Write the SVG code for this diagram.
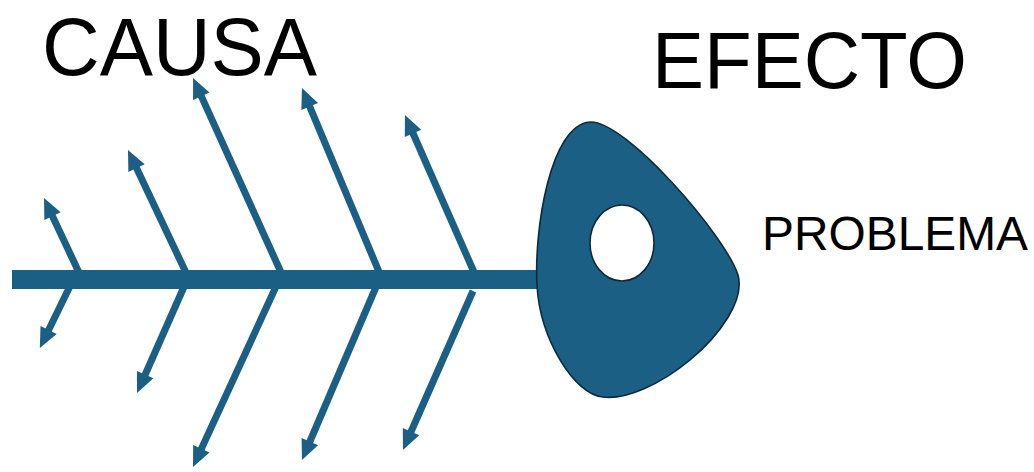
<svg xmlns="http://www.w3.org/2000/svg" width="1034" height="472" viewBox="0 0 1034 472">
<style>
.bone{stroke:#1b6084;stroke-width:7;fill:none;marker-end:url(#ah)}
.lbl{font-family:"Liberation Sans",Arial,sans-serif;fill:#000}
</style>
<defs>
<marker id="ah" markerUnits="userSpaceOnUse" markerWidth="20" markerHeight="18" refX="8" refY="9" orient="auto" overflow="visible">
<path d="M0,0 L20,9 L0,18 Z" fill="#1b6084"/>
</marker>
</defs>
<rect width="1034" height="472" fill="#fff"/>
<g id="title-causa"><text class="lbl" x="42" y="75" font-size="81" textLength="275" lengthAdjust="spacingAndGlyphs">CAUSA</text></g>
<g id="title-efecto"><text class="lbl" x="652" y="88" font-size="79" textLength="315" lengthAdjust="spacingAndGlyphs">EFECTO</text></g>
<g id="spine"><rect x="12" y="270" width="530" height="19" fill="#1b6084"/></g>
<g id="connectors">
<line class="bone" x1="82" y1="279" x2="49.1" y2="208.9"/>
<line class="bone" x1="189" y1="279" x2="133.1" y2="160.8"/>
<line class="bone" x1="284" y1="279" x2="198" y2="88.9"/>
<line class="bone" x1="382" y1="279" x2="306.6" y2="99.1"/>
<line class="bone" x1="477" y1="279" x2="409.8" y2="126"/>
<line class="bone" x1="73" y1="280" x2="45.1" y2="337.2"/>
<line class="bone" x1="187" y1="280" x2="141.9" y2="382"/>
<line class="bone" x1="279" y1="280" x2="198" y2="456.1"/>
<line class="bone" x1="379" y1="280" x2="306.7" y2="449"/>
<line class="bone" x1="473" y1="291" x2="407.8" y2="439"/>
</g>
<g id="head">
<path d="M590,122 C625,120 725,235 738,275 C745,300 720,335 690,360 C660,385 625,400 603,397 C575,395 540,340 537,285 C534,230 550,125 590,122 Z" fill="#1b6084" stroke="#0e2a3a" stroke-width="1.6"/>
<ellipse cx="622" cy="243" rx="32" ry="38" fill="#fff" stroke="#0e2a3a" stroke-width="1.6"/>
</g>
<g id="problema"><text class="lbl" x="762" y="250" font-size="48" textLength="266" lengthAdjust="spacingAndGlyphs">PROBLEMA</text></g>
</svg>
